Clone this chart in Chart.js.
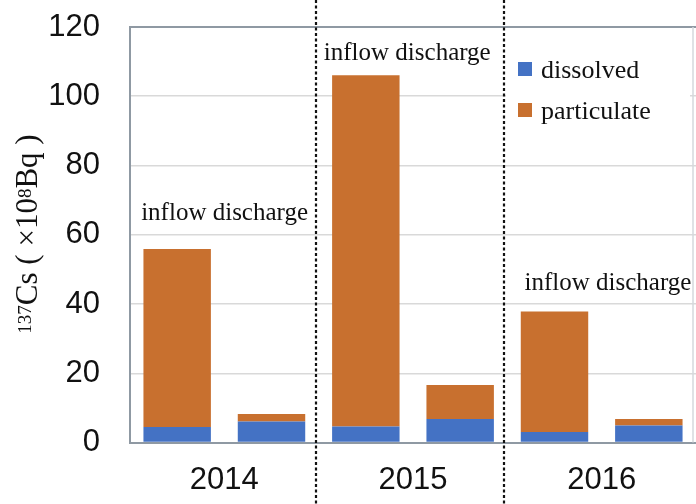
<!DOCTYPE html>
<html>
<head>
<meta charset="utf-8">
<script src="https://cdn.jsdelivr.net/npm/chart.js@4/dist/chart.umd.min.js"></script>
<style>
  html, body { margin: 0; padding: 0; background: #fff; }
  canvas { display: block; }
</style>
</head>
<body>
<canvas id="csChart" width="696" height="504"></canvas>
<script>
// 137Cs loads per year: inflow bar then outflow bar
const years = ['2014', '2015', '2016'];
const bars = ['2014 in', '2014 out', '2015 in', '2015 out', '2016 in', '2016 out'];
const dissolved = [4.5, 6.1, 4.6, 6.8, 3.0, 4.9];
const particulate = [51.4, 2.1, 101.5, 9.8, 34.8, 1.9];
const yTicks = [0, 20, 40, 60, 80, 100, 120];

const BLUE = '#4472C4';
const ORANGE = '#C8702F';
const SERIF = "'Liberation Serif', 'Times New Roman', serif";
const SANS = "'Liberation Sans', Arial, sans-serif";

// text over the inflow bars, y in data units
const notes = [
    { text: 'inflow discharge', bar: 0, y: 64.3, dx: -36 },
    { text: 'inflow discharge', bar: 2, y: 110.5, dx: -42 },
    { text: 'inflow discharge', bar: 4, y: 44.1, dx: -30 }
];
// dashed separators between the years (category index units)
const dividers = [1.5, 3.5];

const decor = {
    id: 'decor',
    beforeDraw(chart) {
        const c = chart.ctx;
        c.save();
        c.fillStyle = '#fff';
        c.fillRect(0, 0, chart.width, chart.height);
        c.restore();
    },
    afterDraw(chart) {
        const c = chart.ctx;
        const a = chart.chartArea;
        const xs = chart.scales.x;
        const ys = chart.scales.y;
        c.save();

        // frame top and right
        c.strokeStyle = '#8F99A3';
        c.lineWidth = 2;
        c.beginPath();
        c.moveTo(a.left, a.top);
        c.lineTo(a.right, a.top);
        c.stroke();
        c.strokeStyle = '#D4D8DC';
        c.lineWidth = 1.5;
        c.beginPath();
        c.moveTo(a.right - 3, a.top);
        c.lineTo(a.right - 3, a.bottom);
        c.stroke();

        // legend box
        c.fillStyle = '#fff';
        c.fillRect(506, 44, 184, 82);
        c.font = '26px ' + SERIF;
        c.textBaseline = 'alphabetic';
        c.textAlign = 'left';
        chart.data.datasets.forEach((ds, i) => {
            const top = 62 + i * 41;
            c.fillStyle = ds.backgroundColor;
            c.fillRect(518, top, 14, 14);
            c.fillStyle = '#111';
            c.fillText(ds.label, 541, top + 16);
        });

        // inflow notes
        c.font = '25px ' + SERIF;
        c.fillStyle = '#111';
        notes.forEach(n => {
            c.fillText(n.text, xs.getPixelForValue(n.bar) + n.dx, ys.getPixelForValue(n.y));
        });

        // dashed year separators
        c.strokeStyle = '#111';
        c.lineWidth = 2.2;
        c.setLineDash([3, 2.5]);
        dividers.forEach(d => {
            const x = Math.round(xs.getPixelForValue(d)) - 3;
            c.beginPath();
            c.moveTo(x, 0);
            c.lineTo(x, chart.height);
            c.stroke();
        });
        c.setLineDash([]);

        // y title, rotated, with superscripts
        const parts = [
            { t: '137', sup: true }, { t: 'Cs' }, { t: ' ( ' }, { t: '×' },
            { t: '10' }, { t: '8', sup: true }, { t: 'Bq' }, { t: ' )' }
        ];
        const big = "31px 'Liberation Serif', serif";
        const small = "19px 'Liberation Serif', serif";
        let total = 0;
        parts.forEach(p => {
            c.font = p.sup ? small : big;
            p.w = c.measureText(p.t).width;
            total += p.w;
        });
        c.translate(43, 234);
        c.rotate(-Math.PI / 2);
        let x = -total / 2;
        c.fillStyle = '#111';
        parts.forEach(p => {
            c.font = p.sup ? small : big;
            c.fillText(p.t, x, p.sup ? -12 : -6);
            x += p.w;
        });
        c.restore();
    }
};

new Chart(document.getElementById('csChart'), {
    type: 'bar',
    data: {
        labels: bars,
        datasets: [
            { label: 'dissolved', data: dissolved, backgroundColor: BLUE, xAxisID: 'x' },
            { label: 'particulate', data: particulate, backgroundColor: ORANGE, xAxisID: 'x' }
        ]
    },
    options: {
        responsive: false,
        animation: false,
        barPercentage: 0.715,
        categoryPercentage: 1,
        layout: { padding: { top: 27, right: -2, left: 0, bottom: 0 } },
        plugins: {
            legend: { display: false },
            tooltip: { enabled: false }
        },
        scales: {
            x: {
                stacked: true,
                position: 'bottom',
                grid: { display: false },
                border: { color: '#8F99A3', width: 2 },
                ticks: { display: false },
                afterFit: s => { s.height = 0; }
            },
            x2: {
                type: 'category',
                labels: years,
                position: 'bottom',
                grid: { display: false },
                border: { display: false },
                ticks: { color: '#111', font: { family: SANS, size: 31 }, padding: 11 },
                afterFit: s => { s.height = 61.5; s.paddingLeft = 0; s.paddingRight = 0; }
            },
            y: {
                stacked: true,
                min: 0,
                max: 120,
                afterBuildTicks: s => { s.ticks = yTicks.map(v => ({ value: v })); },
                grid: { color: '#D9D9D9', lineWidth: 1.5, drawTicks: false },
                border: { color: '#8F99A3', width: 2 },
                ticks: { color: '#111', font: { family: SANS, size: 31 }, padding: 30 },
                afterFit: s => { s.width = 130; s.paddingTop = 0; s.paddingBottom = 0; }
            }
        }
    },
    plugins: [decor]
});
</script>
</body>
</html>
